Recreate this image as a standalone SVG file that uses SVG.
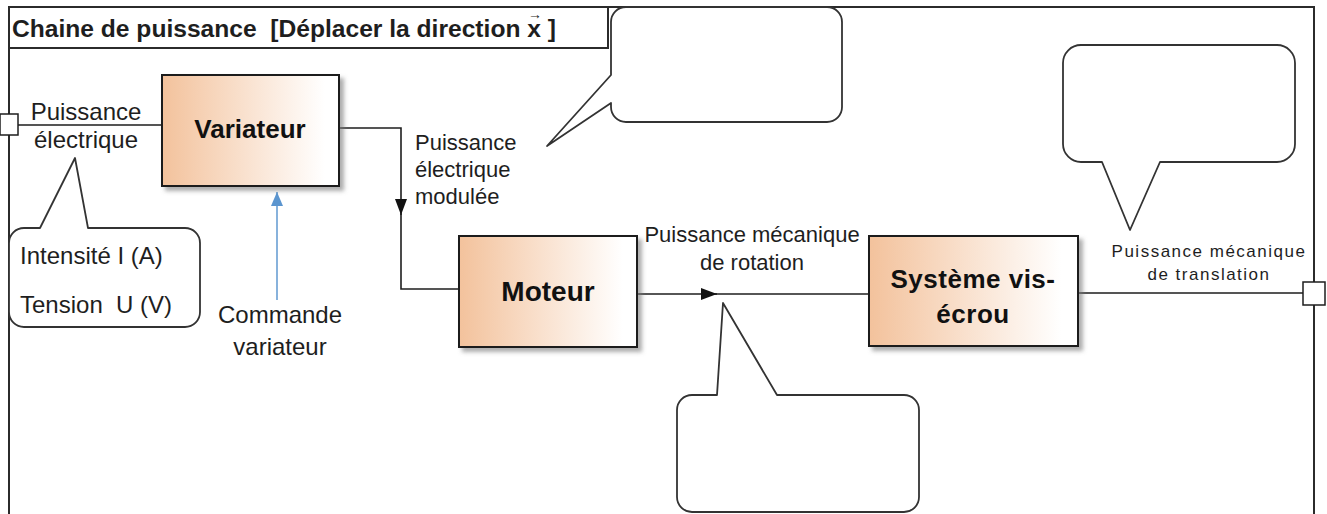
<svg xmlns="http://www.w3.org/2000/svg" width="1327" height="514" viewBox="0 0 1327 514">
<style>
text{font-family:"Liberation Sans",Arial,sans-serif;fill:#1e1e1e}
.lbl{font-size:24px}
.mid{text-anchor:middle}
.blk{font-weight:bold;fill:#111;text-anchor:middle}
.frame{fill:none;stroke:#2b2b2b;stroke-width:2}
.box{fill:url(#grad);stroke:#1e1e1e;stroke-width:2;filter:url(#shadow)}
.call{fill:#fff;stroke:#333;stroke-width:1.8;stroke-linejoin:round}
.wire{fill:none;stroke:#1e1e1e;stroke-width:1.6}
.wire2{fill:none;stroke:#555;stroke-width:2}
.port{fill:#fff;stroke:#1e1e1e;stroke-width:1.5}
</style>
<defs>
<linearGradient id="grad" x1="0" y1="0" x2="1" y2="0">
<stop offset="0" stop-color="#f3c29c"/>
<stop offset="0.92" stop-color="#ffffff"/>
</linearGradient>
<filter id="shadow" x="-10%" y="-10%" width="130%" height="130%">
<feDropShadow dx="4" dy="4" stdDeviation="2" flood-color="#777" flood-opacity="0.6"/>
</filter>
<marker id="tri" markerUnits="userSpaceOnUse" viewBox="0 0 16 12" refX="16" refY="6" markerWidth="16" markerHeight="12" orient="auto">
<path d="M0,0 L16,6 L0,12 Z" fill="#111"/>
</marker>
<marker id="triBlue" markerUnits="userSpaceOnUse" viewBox="0 0 14 12" refX="14" refY="6" markerWidth="14" markerHeight="12" orient="auto">
<path d="M0,0 L14,6 L0,12 Z" fill="#5b95cf"/>
</marker>
</defs>

<g id="frame">
<rect class="frame" x="9" y="7" width="1305" height="530"/>
<path class="frame" d="M9,48 H608 V7"/>
<text x="12" y="37" style="font-size:24.6px;font-weight:bold;white-space:pre">Chaine de puissance  [Déplacer la direction x ]</text>
<text x="535" y="19" style="font-size:14px;font-weight:bold;text-anchor:middle">→</text>
</g>

<g id="connectors">
<path class="wire2" d="M18,125 H162"/>
<path class="wire" d="M339,128 H401 V215" marker-end="url(#tri)"/>
<path class="wire" d="M401,213 V289 H459"/>
<path class="wire" d="M637,294 H717" marker-end="url(#tri)"/>
<path class="wire" d="M715,294 H869"/>
<path class="wire2" d="M1078,293 H1303"/>
<path fill="none" stroke="#6a9fd4" stroke-width="1.6" d="M277,300 V192" marker-end="url(#triBlue)"/>
</g>

<g id="port-in"><rect class="port" x="0" y="114" width="18" height="21"/></g>
<g id="port-out"><rect class="port" x="1303" y="282" width="22" height="23"/></g>

<g id="label-puissance-electrique">
<text class="lbl mid" x="86" y="120">Puissance</text>
<text class="lbl mid" x="86" y="148">électrique</text>
</g>

<g id="variateur">
<rect class="box" x="162" y="75" width="177" height="111"/>
<text class="blk" x="250" y="138" style="font-size:26px">Variateur</text>
</g>

<g id="label-modulee">
<text x="415" y="150" style="font-size:22px">Puissance</text>
<text x="415" y="177" style="font-size:22px">électrique</text>
<text x="415" y="204" style="font-size:22px">modulée</text>
</g>

<g id="moteur">
<rect class="box" x="459" y="236" width="178" height="111"/>
<text class="blk" x="548" y="301" style="font-size:28px">Moteur</text>
</g>

<g id="label-rotation">
<text class="mid" x="752" y="242" style="font-size:22px">Puissance mécanique</text>
<text class="mid" x="752" y="270" style="font-size:22px">de rotation</text>
</g>

<g id="systeme-vis-ecrou">
<rect class="box" x="869" y="236" width="209" height="110"/>
<text class="blk" x="973" y="288" style="font-size:26px;letter-spacing:0.5px">Système vis-</text>
<text class="blk" x="973" y="323" style="font-size:26px;letter-spacing:0.5px">écrou</text>
</g>

<g id="label-translation">
<text class="mid" x="1209" y="257" style="font-size:17px;letter-spacing:1.5px">Puissance mécanique</text>
<text class="mid" x="1209" y="280" style="font-size:17px;letter-spacing:1.5px">de translation</text>
</g>

<g id="commande-variateur">
<text class="lbl mid" x="280" y="323">Commande</text>
<text class="lbl mid" x="280" y="355">variateur</text>
</g>

<g id="callout-intensite">
<path class="call" d="M24,228 H40 L75,158 L88,228 H185 A15,15 0 0 1 200,243 V312 A15,15 0 0 1 185,327 H24 A15,15 0 0 1 9,312 V243 A15,15 0 0 1 24,228 Z"/>
<text class="lbl" x="20" y="264">Intensité I (A)</text>
<text class="lbl" x="20" y="313" style="white-space:pre">Tension  U (V)</text>
</g>

<g id="callout-top">
<path class="call" d="M626,7 H827 A15,15 0 0 1 842,22 V107 A15,15 0 0 1 827,122 H626 A15,15 0 0 1 611,107 V103 L547,146 L611,75 V22 A15,15 0 0 1 626,7 Z"/>
</g>

<g id="callout-right">
<path class="call" d="M1081,45 H1277 A18,18 0 0 1 1295,63 V144 A18,18 0 0 1 1277,162 H1160 L1130,230 L1102,162 H1081 A18,18 0 0 1 1063,144 V63 A18,18 0 0 1 1081,45 Z"/>
</g>

<g id="callout-bottom">
<path class="call" d="M692,395 H717 L723,303 L777,395 H904 A15,15 0 0 1 919,410 V497 A15,15 0 0 1 904,512 H692 A15,15 0 0 1 677,497 V410 A15,15 0 0 1 692,395 Z"/>
</g>
</svg>
